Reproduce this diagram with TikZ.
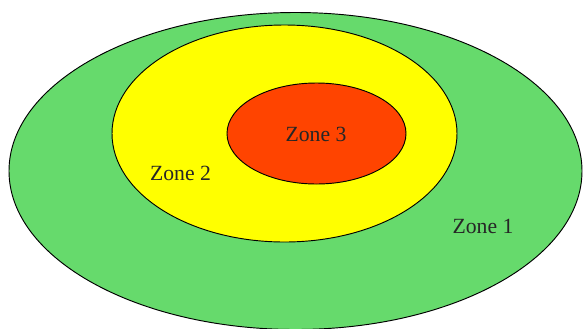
\documentclass[tikz,border=0pt]{standalone}
\usepackage{fontspec}
\setmainfont{Liberation Serif}
\definecolor{zonegreen}{RGB}{102,218,108}
\definecolor{zoneyellow}{RGB}{255,255,0}
\definecolor{zonered}{RGB}{255,68,0}
\tikzset{
    zone/.style={draw=black, line width=0.8pt},
    zonelabel/.style={font=\fontsize{18.5}{20}\selectfont, text=black!85}
}
\begin{document}
\begin{tikzpicture}[x=0.03cm, y=-0.03cm]
    \useasboundingbox (0,0) rectangle (583,328);
    \fill[white] (0,0) rectangle (583,328);

    \draw[zone, fill=zonegreen] (295.5,171) ellipse (286.5 and 158.5);
    \draw[zone, fill=zoneyellow] (284.5,133.5) ellipse (172.5 and 108.5);
    \draw[zone, fill=zonered] (316.5,133.5) ellipse (89.5 and 50.5);

    \node[zonelabel] (zone3) at (316,134) {Zone 3};
    \node[zonelabel] (zone2) at (180.5,173) {Zone 2};
    \node[zonelabel] (zone1) at (483,226) {Zone 1};
\end{tikzpicture}
\end{document}
